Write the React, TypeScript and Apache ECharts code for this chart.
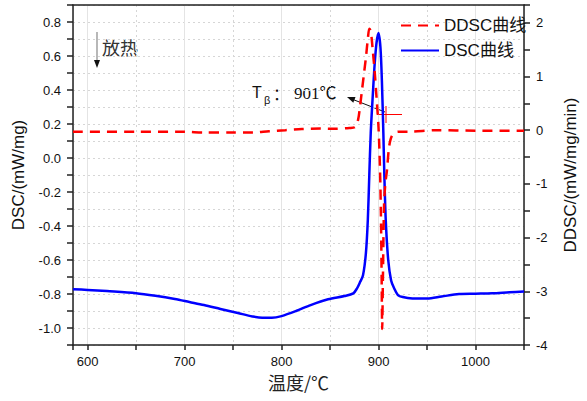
import React, { useEffect, useRef } from 'react';
import * as echarts from 'echarts';

const xMin = 585;
const xMax = 1050;
const leftMin = -1.1;
const leftMax = 0.9;
const rightMin = -4;
const rightMax = 2.33;

const dscTemp = [585, 600, 620, 650, 670, 690, 705, 720, 737, 755, 770, 780, 790, 800, 815, 830, 848, 865, 874, 878, 881, 884, 887, 889, 890.5, 892, 894, 896, 898, 900, 902, 903.5, 905, 906, 907.5, 910, 913, 916, 920, 925, 935, 950, 965, 983, 1000, 1017, 1035, 1050];
const dscValue = [-0.772, -0.776, -0.783, -0.795, -0.81, -0.829, -0.847, -0.865, -0.888, -0.912, -0.932, -0.94, -0.94, -0.93, -0.9, -0.865, -0.831, -0.812, -0.796, -0.765, -0.73, -0.69, -0.56, -0.36, -0.1, 0.15, 0.36, 0.55, 0.68, 0.735, 0.65, 0.45, 0.145, -0.1, -0.37, -0.6, -0.72, -0.765, -0.806, -0.818, -0.826, -0.827, -0.815, -0.8, -0.798, -0.796, -0.79, -0.786];

const ddscTemp = [585, 650, 700, 720, 750, 770, 787, 804, 821, 840, 855, 870, 876, 879, 881, 883, 885, 887, 889, 890.5, 892, 894, 896, 898, 900, 901.5, 902.5, 903.2, 903.8, 904.5, 905.7, 907, 908.7, 911, 914, 920, 930, 960, 1000, 1050];
const ddscValue = [-0.03, -0.03, -0.03, -0.045, -0.045, -0.045, -0.02, 0.0, 0.02, 0.03, 0.025, 0.04, 0.06, 0.2, 0.45, 0.75, 1.05, 1.35, 1.7, 1.89, 1.85, 1.5, 1.1, 0.6, 0.05, -0.7, -1.6, -2.7, -3.7, -2.8, -1.4, -1.0, -0.75, -0.3, -0.1, -0.03, -0.03, 0.0, -0.01, -0.01];

const seriesNames = ['DDSC曲线', 'DSC曲线'];
const xAxisName = '温度/℃';
const leftAxisName = 'DSC/(mW/mg)';
const rightAxisName = 'DDSC/(mW/mg/min)';

const sans = 'Arial, "Liberation Sans", "Noto Sans CJK SC", sans-serif';
const cjk = '"Noto Sans CJK SC", "Liberation Serif", serif';
const axisColor = '#222';

export default function App() {
  const ref = useRef<HTMLDivElement>(null);
  useEffect(() => {
    if (!ref.current) return;
    const chart = echarts.init(ref.current, undefined, { renderer: 'svg' });
    const lineStyleAxis = { color: axisColor, width: 1.5 };
    chart.setOption({
      animation: false,
      backgroundColor: '#fff',
      grid: { left: 73, right: 53, top: 5, bottom: 56, containLabel: false },
      legend: {
        data: seriesNames,
        orient: 'vertical',
        left: 395,
        top: 12,
        itemWidth: 38,
        itemHeight: 14,
        itemGap: 8,
        itemStyle: { opacity: 0, borderWidth: 0 },
        textStyle: { fontSize: 17, color: '#111', fontFamily: sans },
      },
      xAxis: [
        {
          type: 'value', min: xMin, max: xMax, splitNumber: 9, position: 'bottom',
          axisLine: { show: true, onZero: false, lineStyle: lineStyleAxis },
          axisTick: { show: true, inside: false, length: 5, lineStyle: lineStyleAxis },
          axisLabel: {
            formatter: (v: number) => (Math.abs(v % 100) < 1e-6 ? String(v) : ''),
            margin: 10, fontSize: 13, color: '#111', fontFamily: sans,
          },
          splitLine: { show: true, lineStyle: { color: '#d6d6d6', type: [2, 3], width: 1 } },
          name: xAxisName, nameLocation: 'middle', nameGap: 28,
          nameTextStyle: { fontSize: 18, color: '#222', fontFamily: cjk },
        },
        {
          type: 'value', min: xMin, max: xMax, splitNumber: 5, position: 'top',
          axisLine: { show: true, onZero: false, lineStyle: lineStyleAxis },
          axisTick: { show: false }, axisLabel: { show: false },
          splitLine: { show: true, lineStyle: { color: '#e4e4e4', width: 1 } },
        },
      ],
      yAxis: [
        {
          type: 'value', position: 'left', min: leftMin, max: leftMax, interval: 0.1,
          axisLine: { show: true, onZero: false, lineStyle: lineStyleAxis },
          axisTick: { show: true, inside: false, length: 6, lineStyle: lineStyleAxis },
          axisLabel: {
            formatter: (v: number) => {
              const k = Math.round(v * 10);
              return k % 2 === 0 ? (k / 10).toFixed(1) : '';
            },
            margin: 12, fontSize: 13, color: '#111', fontFamily: sans,
          },
          splitLine: { show: true, lineStyle: { color: '#d6d6d6', type: [2, 3], width: 1 } },
          name: leftAxisName, nameLocation: 'middle', nameGap: 46, nameRotate: 90,
          nameTextStyle: { fontSize: 17, color: '#111', fontFamily: sans },
        },
        {
          type: 'value', position: 'right', min: rightMin, max: rightMax, interval: 0.5,
          axisLine: { show: true, onZero: false, lineStyle: lineStyleAxis },
          axisTick: { show: true, inside: false, length: 6, lineStyle: lineStyleAxis },
          axisLabel: {
            formatter: (v: number) => (Math.abs(v - Math.round(v)) < 1e-6 ? String(Math.round(v)) : ''),
            margin: 12, fontSize: 13, color: '#111', fontFamily: sans,
          },
          splitLine: { show: false },
          name: rightAxisName, nameLocation: 'middle', nameGap: 38, nameRotate: 90,
          nameTextStyle: { fontSize: 17, color: '#111', fontFamily: sans },
        },
      ],
      series: [
        {
          name: seriesNames[1], type: 'line', xAxisIndex: 0, yAxisIndex: 0,
          data: dscTemp.map((t, i) => [t, dscValue[i]]),
          symbol: 'none', smooth: 0.3,
          lineStyle: { color: '#0000ff', width: 2.5 },
          itemStyle: { color: '#0000ff' },
        },
        {
          name: seriesNames[0], type: 'line', xAxisIndex: 0, yAxisIndex: 1,
          data: ddscTemp.map((t, i) => [t, ddscValue[i]]),
          symbol: 'none', smooth: 0.3,
          lineStyle: { color: '#ff0000', width: 2.5, type: [10, 7] },
          itemStyle: { color: '#ff0000' },
        },
      ],
      graphic: [
        { type: 'line', shape: { x1: 97, y1: 32, x2: 97, y2: 62 }, style: { stroke: '#888', lineWidth: 1.2 } },
        { type: 'polygon', shape: { points: [[94, 60], [100, 60], [97, 68]] }, style: { fill: '#111' } },
        { type: 'text', x: 102, y: 47, style: { text: '放热', fontSize: 18, fill: '#333', fontFamily: cjk, verticalAlign: 'middle' } },
        { type: 'text', x: 252, y: 92, style: { text: 'T', fontSize: 16, fill: '#111', fontFamily: sans, verticalAlign: 'middle' } },
        { type: 'text', x: 264, y: 100, style: { text: 'β', fontSize: 11, fill: '#111', fontFamily: sans, verticalAlign: 'middle' } },
        { type: 'text', x: 273, y: 93, style: { text: '：', fontSize: 16, fill: '#111', fontFamily: cjk, verticalAlign: 'middle' } },
        { type: 'text', x: 294, y: 93, style: { text: '901℃', fontSize: 17, fill: '#111', fontFamily: '"Liberation Serif", "Noto Sans CJK SC", serif', verticalAlign: 'middle' } },
        { type: 'line', shape: { x1: 385, y1: 112, x2: 353, y2: 99.5 }, style: { stroke: '#111', lineWidth: 1 } },
        { type: 'polygon', shape: { points: [[347, 97], [355.5, 97.1], [353.3, 102.7]] }, style: { fill: '#111' } },
        { type: 'line', shape: { x1: 377, y1: 114.5, x2: 402, y2: 114.5 }, style: { stroke: '#ff0000', lineWidth: 1 } },
        { type: 'line', shape: { x1: 386, y1: 106, x2: 386, y2: 123 }, style: { stroke: '#ff0000', lineWidth: 1 } },
      ],
    });
    return () => chart.dispose();
  }, []);
  return (
    <div
      ref={ref}
      style={{ position: 'fixed', left: 0, top: 0, width: 587, height: 401 }}
    />
  );
}
